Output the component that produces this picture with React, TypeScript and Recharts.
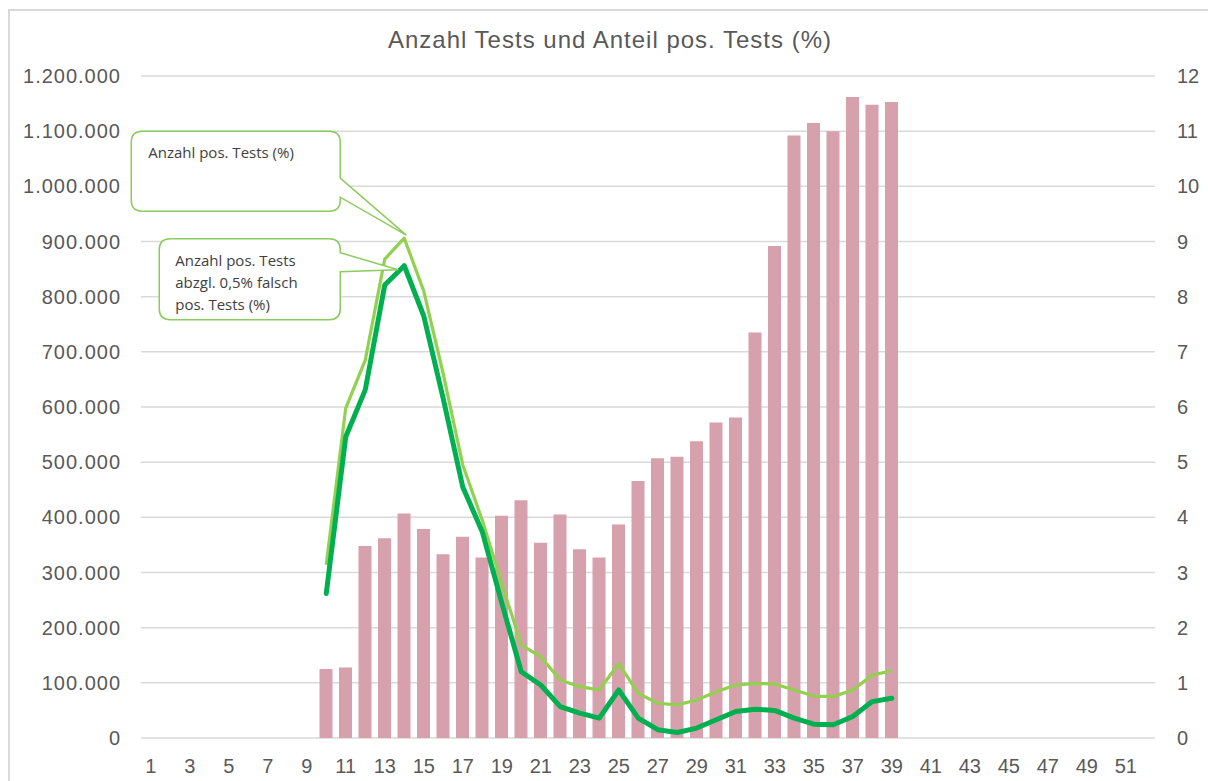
import React from 'react';
import { ComposedChart, Bar, Line, XAxis, YAxis, CartesianGrid, ReferenceDot } from 'recharts';

const weeks = ['1','2','3','4','5','6','7','8','9','10','11','12','13','14','15','16','17','18','19','20','21','22','23','24','25','26','27','28','29','30','31','32','33','34','35','36','37','38','39','40','41','42','43','44','45','46','47','48','49','50','51','52'];

const dataWeeks = ['10','11','12','13','14','15','16','17','18','19','20','21','22','23','24','25','26','27','28','29','30','31','32','33','34','35','36','37','38','39'];

const tests = [125000,128000,348000,362000,407000,379000,333000,365000,327000,403000,431000,354000,405000,342000,327000,387000,466000,507000,510000,538000,572000,581000,735000,892000,1092000,1115000,1100000,1162000,1148000,1153000];

const posShare = [3.14,5.98,6.85,8.68,9.06,8.1,6.6,4.95,3.95,2.8,1.69,1.47,1.05,0.93,0.87,1.35,0.81,0.63,0.6,0.69,0.84,0.96,0.99,0.98,0.87,0.76,0.75,0.87,1.14,1.22];

const posShareAdj = [2.62,5.46,6.31,8.21,8.56,7.65,6.15,4.55,3.74,2.45,1.2,0.96,0.57,0.45,0.36,0.87,0.36,0.15,0.1,0.18,0.33,0.48,0.52,0.5,0.36,0.25,0.24,0.39,0.66,0.72];

const leftTicks = [0,100000,200000,300000,400000,500000,600000,700000,800000,900000,1000000,1100000,1200000];
const rightTicks = [0,1,2,3,4,5,6,7,8,9,10,11,12];

const title = 'Anzahl Tests und Anteil pos. Tests (%)';
const callout1 = ['Anzahl pos. Tests (%)'];
const callout2 = ['Anzahl pos. Tests', 'abzgl. 0,5% falsch', 'pos. Tests (%)'];

const data = weeks.map((w) => {
  const i = dataWeeks.indexOf(w);
  return {
    week: w,
    tests: i >= 0 ? tests[i] : null,
    pos: i >= 0 ? posShare[i] : null,
    posAdj: i >= 0 ? posShareAdj[i] : null,
  };
});

const peakPos = Math.max(...posShare);
const peakPosWeek = dataWeeks[posShare.indexOf(peakPos)];
const peakAdj = Math.max(...posShareAdj);
const peakAdjWeek = dataWeeks[posShareAdj.indexOf(peakAdj)];

const fmt = (v: number) => v.toLocaleString('de-DE');

const tickStyle = { fontFamily: '"Liberation Sans", Arial, sans-serif', fontSize: 20, fill: '#595959' };

function calloutPath(l: number, t: number, r: number, b: number, b1: number, b2: number, tx: number, ty: number, rad: number) {
  return `M${l + rad},${t} L${r - rad},${t} Q${r},${t} ${r},${t + rad} L${r},${b1} L${tx},${ty} L${r},${b2} L${r},${b - rad} Q${r},${b} ${r - rad},${b} L${l + rad},${b} Q${l},${b} ${l},${b - rad} L${l},${t + rad} Q${l},${t} ${l + rad},${t} Z`;
}

const Callout = (props: any) => {
  const { cx, cy, lines, box, base, tip, textX, textY } = props;
  if (cx == null || cy == null) return <g />;
  const l = cx + box[0], t = cy + box[1], r = cx + box[2], b = cy + box[3];
  return (
    <g>
      <path d={calloutPath(l, t, r, b, cy + base[0], cy + base[1], cx + tip[0], cy + tip[1], 11)} fill="#ffffff" stroke="#8CCB5E" strokeWidth={1.5} />
      {lines.map((s: string, i: number) => (
        <text key={i} x={cx + textX} y={cy + textY + i * 22} fontFamily="'Open Sans', Lato, sans-serif" fontSize={15} fill="#404040">{s}</text>
      ))}
    </g>
  );
};

export default function App() {
  return (
    <div style={{ position: 'fixed', left: 8, top: 8, width: 1250, height: 773, overflow: 'hidden', background: '#fff' }}>
      <style>{'html,body{overflow:hidden}'}</style>
      <div style={{ position: 'absolute', left: 0, top: 1, width: 1400, height: 1000, border: '2px solid #d9d9d9' }} />
      <div style={{ position: 'absolute', left: 202, top: 18, width: 800, textAlign: 'center', fontFamily: '"Liberation Sans", Arial, sans-serif', fontSize: 24, letterSpacing: 1, lineHeight: '28px', color: '#595959' }}>{title}</div>
      <div style={{ position: 'absolute', left: 0, top: 0 }}>
        <ComposedChart width={1200} height={773} data={data} margin={{ top: 68, right: 0, bottom: 3, left: 0 }} barSize={13}>
          <CartesianGrid vertical={false} stroke="#d9d9d9" strokeWidth={1.5} yAxisId="left" />
          <XAxis dataKey="week" interval={1} tickLine={false} axisLine={false} tickSize={0} tickMargin={21} height={40} tick={tickStyle} />
          <YAxis yAxisId="left" orientation="left" domain={[0, 1200000]} ticks={leftTicks} tickFormatter={fmt} width={133} tickLine={false} axisLine={false} tickSize={0} tickMargin={20} tick={{ ...tickStyle, letterSpacing: 1 }} />
          <YAxis yAxisId="right" orientation="right" domain={[0, 12]} ticks={rightTicks} width={53} tickLine={false} axisLine={false} tickSize={0} tickMargin={22} tick={{ ...tickStyle, textAnchor: 'start' }} />
          <Bar yAxisId="left" dataKey="tests" fill="#D6A1AD" isAnimationActive={false} />
          <Line yAxisId="right" dataKey="pos" type="linear" stroke="#92D050" strokeWidth={3.2} dot={false} isAnimationActive={false} strokeLinejoin="round" />
          <Line yAxisId="right" dataKey="posAdj" type="linear" stroke="#00B050" strokeWidth={5} dot={false} isAnimationActive={false} strokeLinejoin="round" strokeLinecap="round" />
          <ReferenceDot yAxisId="right" x={peakPosWeek} y={peakPos} r={0} isFront
            shape={(p: any) => <Callout {...p} lines={callout1} box={[-273, -107, -64, -27]} base={[-60, -41]} tip={[2, -3]} textX={-256} textY={-80} />} />
          <ReferenceDot yAxisId="right" x={peakAdjWeek} y={peakAdj} r={0} isFront
            shape={(p: any) => <Callout {...p} lines={callout2} box={[-245, -27, -64, 54]} base={[-13, 6]} tip={[-6, 4]} textX={-229} textY={0} />} />
        </ComposedChart>
      </div>
    </div>
  );
}
